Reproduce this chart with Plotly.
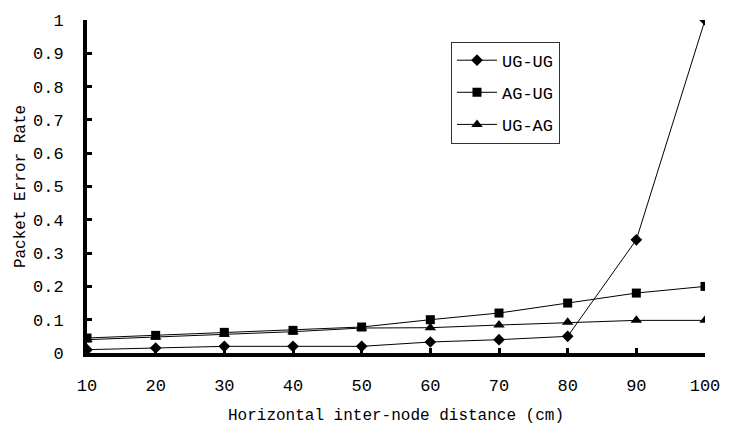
import plotly.graph_objects as go

distance = [10, 20, 30, 40, 50, 60, 70, 80, 90, 100]
ug_ug = [0.01, 0.015, 0.02, 0.02, 0.02, 0.033, 0.04, 0.05, 0.34, 1.0]
ag_ug = [0.045, 0.053, 0.062, 0.068, 0.078, 0.10, 0.12, 0.15, 0.18, 0.20]
ug_ag = [0.04, 0.048, 0.056, 0.064, 0.075, 0.076, 0.084, 0.092, 0.098, 0.098]
y_ticks = [0, 0.1, 0.2, 0.3, 0.4, 0.5, 0.6, 0.7, 0.8, 0.9, 1]
y_labels = ["0", "0.1", "0.2", "0.3", "0.4", "0.5", "0.6", "0.7", "0.8", "0.9", "1"]

font = "Liberation Mono, DejaVu Sans Mono, monospace"

fig = go.Figure()
for name, ys, sym, sz in [("UG-UG", ug_ug, "diamond", 9),
                          ("AG-UG", ag_ug, "square", 9),
                          ("UG-AG", ug_ag, "triangle-up", 10)]:
    fig.add_trace(go.Scatter(x=distance, y=ys, name=name, mode="lines+markers",
                             legendgroup=name,
                             line=dict(color="black", width=1),
                             marker=dict(symbol=sym, size=sz, color="black")))

fig.update_layout(
    width=732, height=439,
    margin=dict(l=87, r=17, t=17, b=86),
    paper_bgcolor="white", plot_bgcolor="white",
    font=dict(family=font, color="black", size=15),
    showlegend=True,
    legend=dict(x=0.589, y=0.935, xanchor="left", yanchor="top",
                bordercolor="#333", borderwidth=1, bgcolor="white",
                font=dict(size=17, family=font), itemwidth=40, tracegroupgap=7),
    xaxis=dict(range=[10, 100], tickvals=distance, ticks="inside", ticklen=5,
               tickwidth=3, tickcolor="black", showline=True, linewidth=4,
               linecolor="black", showgrid=False, zeroline=False,
               ticklabelstandoff=14,
               title=dict(text="Horizontal inter-node distance (cm)", standoff=14,
                          font=dict(size=16)),
               tickfont=dict(size=17)),
    yaxis=dict(range=[0, 1], tickvals=y_ticks, ticktext=y_labels, ticks="inside",
               ticklen=5, tickwidth=3, tickcolor="black", showline=True,
               linewidth=4, linecolor="black", showgrid=False, zeroline=False,
               ticklabelstandoff=16,
               title=dict(text="Packet Error Rate", standoff=4, font=dict(size=16)),
               tickfont=dict(size=17)),
)

fig.write_html("out.html")
